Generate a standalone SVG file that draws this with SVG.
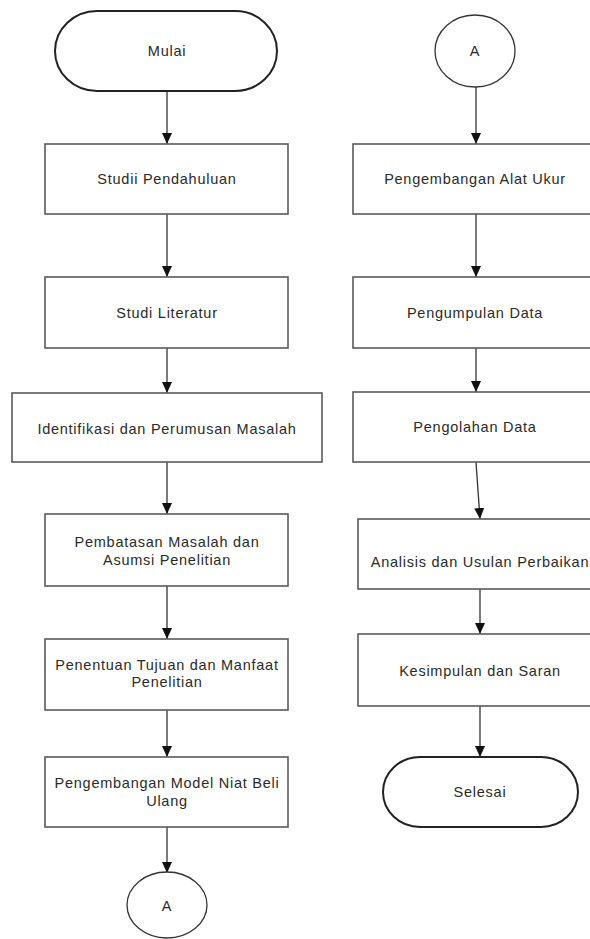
<svg xmlns="http://www.w3.org/2000/svg" width="590" height="939" viewBox="0 0 590 939">
<style>
.box{fill:#fff;stroke:#5a5a5a;stroke-width:1.6}
.term{fill:#fff;stroke:#222;stroke-width:2}
.con{fill:#fff;stroke:#333;stroke-width:1.3}
.t{font-family:"Liberation Sans",Arial,sans-serif;font-size:14.5px;fill:#2a2a2a;text-anchor:middle;letter-spacing:0.75px}
.edge{stroke:#333;stroke-width:1.3;fill:none;marker-end:url(#arr)}
</style>
<defs>
<marker id="arr" markerUnits="userSpaceOnUse" markerWidth="11" markerHeight="10" refX="11" refY="5" orient="auto">
<path d="M0,0 L11,5 L0,10 z" fill="#111"/>
</marker>
</defs>
<rect width="590" height="939" fill="#fff"/>
<g id="connectors">
<line class="edge" x1="167" y1="91" x2="167" y2="144"/>
<line class="edge" x1="167" y1="214" x2="167" y2="277"/>
<line class="edge" x1="167" y1="348" x2="167" y2="393"/>
<line class="edge" x1="167" y1="462" x2="167" y2="514"/>
<line class="edge" x1="167" y1="586" x2="167" y2="639"/>
<line class="edge" x1="167" y1="710" x2="167" y2="757"/>
<line class="edge" x1="167" y1="827" x2="167" y2="873"/>
<line class="edge" x1="476" y1="87" x2="476" y2="144"/>
<line class="edge" x1="476" y1="214" x2="476" y2="277"/>
<line class="edge" x1="476" y1="348" x2="476" y2="392"/>
<line class="edge" x1="476" y1="462" x2="480" y2="519"/>
<line class="edge" x1="480" y1="589" x2="480" y2="634"/>
<line class="edge" x1="480" y1="706" x2="480" y2="757"/>
</g>
<g id="mulai">
<rect class="term" x="55" y="11" width="222" height="80" rx="42" ry="40"/>
<text class="t" x="167" y="56">Mulai</text>
</g>
<g id="studi-pendahuluan">
<rect class="box" x="45" y="144" width="243" height="70"/>
<text class="t" x="167" y="184">Studii Pendahuluan</text>
</g>
<g id="studi-literatur">
<rect class="box" x="45" y="277" width="243" height="71"/>
<text class="t" x="167" y="318">Studi Literatur</text>
</g>
<g id="identifikasi">
<rect class="box" x="12" y="393" width="310" height="69"/>
<text class="t" x="167" y="434">Identifikasi dan Perumusan Masalah</text>
</g>
<g id="pembatasan">
<rect class="box" x="45" y="514" width="243" height="72"/>
<text class="t" x="167" y="547">Pembatasan Masalah dan</text>
<text class="t" x="167" y="565">Asumsi Penelitian</text>
</g>
<g id="penentuan">
<rect class="box" x="45" y="639" width="243" height="71"/>
<text class="t" x="167" y="670">Penentuan Tujuan dan Manfaat</text>
<text class="t" x="167" y="687">Penelitian</text>
</g>
<g id="model">
<rect class="box" x="45" y="757" width="243" height="70"/>
<text class="t" x="167" y="788">Pengembangan Model Niat Beli</text>
<text class="t" x="167" y="806">Ulang</text>
</g>
<g id="connector-a-out">
<ellipse class="con" cx="167" cy="905" rx="40" ry="33"/>
<text class="t" x="167" y="911">A</text>
</g>
<g id="connector-a-in">
<ellipse class="con" cx="475" cy="51" rx="40" ry="36"/>
<text class="t" x="475" y="56">A</text>
</g>
<g id="alat-ukur">
<rect class="box" x="353" y="144" width="250" height="70"/>
<text class="t" x="475" y="184">Pengembangan Alat Ukur</text>
</g>
<g id="pengumpulan">
<rect class="box" x="353" y="277" width="250" height="71"/>
<text class="t" x="475" y="318">Pengumpulan Data</text>
</g>
<g id="pengolahan">
<rect class="box" x="353" y="392" width="250" height="70"/>
<text class="t" x="475" y="432">Pengolahan Data</text>
</g>
<g id="analisis">
<rect class="box" x="358" y="519" width="250" height="70"/>
<text class="t" x="480" y="567">Analisis dan Usulan Perbaikan</text>
</g>
<g id="kesimpulan">
<rect class="box" x="358" y="634" width="250" height="72"/>
<text class="t" x="480" y="676">Kesimpulan dan Saran</text>
</g>
<g id="selesai">
<rect class="term" x="383" y="757" width="195" height="70" rx="37" ry="35"/>
<text class="t" x="480" y="797">Selesai</text>
</g>
</svg>
